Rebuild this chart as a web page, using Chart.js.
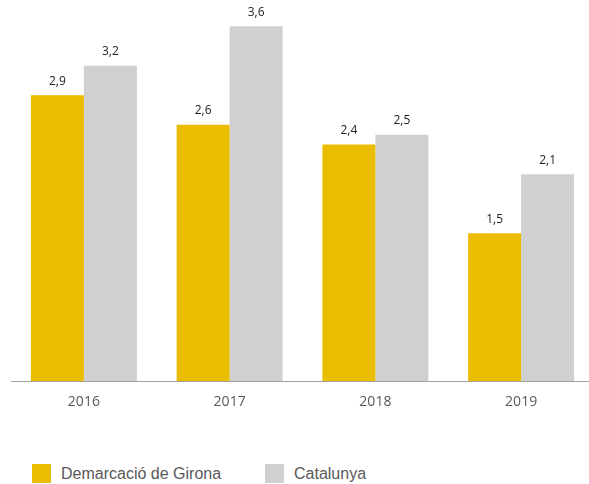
<!DOCTYPE html>
<html>
<head>
<meta charset="utf-8">
<script src="https://cdn.jsdelivr.net/npm/chart.js@4/dist/chart.umd.min.js"></script>
<style>
  html, body { margin: 0; padding: 0; background: #fff; overflow: hidden; width: 589px; height: 484px; }
  #wrap { position: relative; width: 589px; height: 484px; }
  canvas { position: absolute; left: 0; top: 0; }
  #legend { position: absolute; left: 32px; top: 464px; font-family: "Liberation Sans", Arial, sans-serif; font-size: 16px; color: #595959; }
  .item { position: absolute; white-space: nowrap; display: flex; align-items: center; }
  .sw { width: 19px; height: 19px; display: inline-block; margin-right: 10px; }
</style>
</head>
<body>
<div id="wrap">
  <canvas id="chart" width="595" height="414"></canvas>
  <div id="legend"></div>
</div>
<script>
// Chart data
const years = ['2016', '2017', '2018', '2019'];
const gironaValues = [2.9, 2.6, 2.4, 1.5];
const catalunyaValues = [3.2, 3.6, 2.5, 2.1];
const seriesNames = ['Demarcació de Girona', 'Catalunya'];
const seriesColors = ['#ebbd00', '#d0d0d0'];

// Draw value labels above each bar
const valueLabels = {
    id: 'valueLabels',
    afterDatasetsDraw(chart) {
        const ctx = chart.ctx;
        ctx.save();
        ctx.font = '12px "Open Sans", "Noto Sans", sans-serif';
        ctx.fillStyle = '#222222';
        ctx.textAlign = 'center';
        ctx.textBaseline = 'middle';
        chart.data.datasets.forEach((ds, i) => {
            chart.getDatasetMeta(i).data.forEach((bar, j) => {
                const txt = ds.data[j].toFixed(1).replace('.', ',');
                ctx.fillText(txt, bar.x, bar.y - 14);
            });
        });
        ctx.restore();
    }
};

const ctx = document.getElementById('chart').getContext('2d');
const chart = new Chart(ctx, {
    type: 'bar',
    data: {
        labels: years,
        datasets: [
            {
                label: seriesNames[0],
                data: gironaValues,
                backgroundColor: seriesColors[0],
                barPercentage: 1,
                categoryPercentage: 0.727
            },
            {
                label: seriesNames[1],
                data: catalunyaValues,
                backgroundColor: seriesColors[1],
                barPercentage: 1,
                categoryPercentage: 0.727
            }
        ]
    },
    options: {
        responsive: false,
        animation: false,
        layout: {
            padding: { left: 11, right: 1, top: 0, bottom: 0 }
        },
        plugins: {
            legend: { display: false },
            tooltip: { enabled: false }
        },
        scales: {
            x: {
                grid: { display: false },
                border: { display: true, color: '#a0a0a0', width: 1 },
                ticks: {
                    color: '#595959',
                    padding: 4,
                    font: { family: '"Open Sans", "Noto Sans", sans-serif', size: 14 }
                }
            },
            y: {
                display: false,
                min: 0,
                max: 3.866
            }
        }
    },
    plugins: [valueLabels]
});

// HTML legend
const legend = document.getElementById('legend');
const offsets = [0, 233];
seriesNames.forEach((name, i) => {
    const item = document.createElement('div');
    item.className = 'item';
    item.style.left = offsets[i] + 'px';
    item.innerHTML = '<span class="sw" style="background:' + seriesColors[i] + '"></span>' + name;
    legend.appendChild(item);
});
</script>
</body>
</html>
